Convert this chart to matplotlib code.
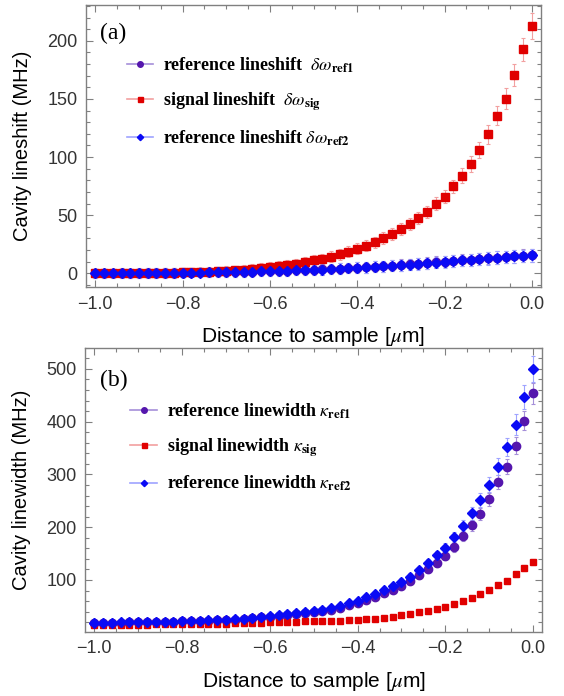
import numpy as np
import matplotlib
matplotlib.use("Agg")
import matplotlib.pyplot as plt
from matplotlib.lines import Line2D
from matplotlib.ticker import MultipleLocator, FixedLocator

plt.rcParams['font.family'] = ['Liberation Sans', 'DejaVu Sans']
plt.rcParams['mathtext.fontset'] = 'stix'

# distance to sample (um), 51 points from -1.0 to 0.0
distance = np.linspace(-1.0, 0.0, 51)

# panel (a): cavity lineshift (MHz)
shift_ref1 = [0.1, 0.0, 0.0, 0.2, 0.1, 0.1, 0.3, 0.2, 0.4, 0.4,
              0.6, 0.6, 0.8, 0.8, 1.0, 1.1, 1.2, 1.3, 1.5, 1.7,
              1.9, 2.1, 2.3, 2.5, 2.8, 3.1, 3.4, 3.7, 4.1, 4.5,
              4.9, 5.3, 5.7, 6.2, 6.7, 7.2, 7.7, 8.3, 8.9, 9.5,
              10.1, 10.7, 11.2, 11.8, 12.4, 13.0, 13.6, 14.1, 14.6, 15.1,
              15.4]
shift_sig = [0.0, 0.1, 0.1, 0.2, 0.2, 0.3, 0.4, 0.5, 0.6, 0.7,
             0.8, 1.0, 1.2, 1.4, 1.7, 2.1, 2.6, 3.2, 3.9, 4.6,
             5.4, 6.3, 7.2, 8.2, 9.7, 11.2, 12.6, 14.4, 16.3, 18.6,
             21.2, 23.8, 26.6, 30.4, 33.8, 37.9, 42.4, 47.3, 53.0, 59.8,
             65.9, 74.9, 84.0, 94.1, 106.1, 119.6, 135.6, 150.3, 170.4, 192.8,
             212.8]
shift_ref2 = [0.0, 0.0, 0.1, 0.1, 0.1, 0.2, 0.2, 0.3, 0.3, 0.4,
              0.5, 0.6, 0.7, 0.8, 0.9, 1.0, 1.1, 1.3, 1.4, 1.6,
              1.8, 2.0, 2.2, 2.5, 2.7, 3.0, 3.3, 3.6, 4.0, 4.4,
              4.8, 5.2, 5.6, 6.1, 6.6, 7.1, 7.6, 8.1, 8.7, 9.3,
              9.9, 10.5, 11.1, 11.7, 12.3, 12.9, 13.5, 14.0, 14.5, 15.0,
              15.5]
err_shift_ref = [4.0, 4.0, 4.0, 4.0, 4.0, 4.0, 4.0, 4.0, 4.0, 4.0,
                 4.1, 4.1, 4.1, 4.1, 4.1, 4.2, 4.2, 4.2, 4.2, 4.2,
                 4.3, 4.3, 4.3, 4.3, 4.4, 4.4, 4.4, 4.5, 4.5, 4.5,
                 4.6, 4.6, 4.6, 4.7, 4.7, 4.8, 4.8, 4.9, 4.9, 5.0,
                 5.0, 5.1, 5.1, 5.2, 5.2, 5.3, 5.3, 5.4, 5.4, 5.5,
                 5.5]
err_shift_sig = [3.5, 3.5, 3.5, 3.5, 3.5, 3.5, 3.6, 3.6, 3.6, 3.6,
                 3.7, 3.7, 3.7, 3.8, 3.8, 3.8, 3.9, 3.9, 4.0, 4.0,
                 4.1, 4.1, 4.2, 4.2, 4.3, 4.3, 4.4, 4.4, 4.5, 4.5,
                 4.6, 4.6, 4.7, 4.8, 4.9, 5.0, 5.1, 5.2, 5.3, 5.5,
                 5.7, 5.8, 6.3, 7.0, 7.0, 8.2, 8.3, 8.7, 9.4, 9.9,
                 11.0]

# panel (b): cavity linewidth (MHz)
width_ref1 = [18.8, 19.0, 19.2, 19.4, 19.6, 19.8, 20.1, 20.4, 20.7, 21.1,
              21.5, 21.9, 22.4, 22.9, 23.5, 24.2, 25.1, 26.2, 27.5, 29.0,
              30.5, 32.0, 33.5, 35.2, 37.0, 39.0, 41.5, 44.0, 47.5, 52.0,
              57.0, 62.0, 68.0, 75.0, 81.0, 89.0, 98.0, 108.9, 120.0, 132.8,
              145.5, 163.0, 183.4, 203.7, 225.0, 253.0, 285.0, 314.8, 354.6, 402.0,
              454.0]
width_sig = [15.0, 15.1, 15.2, 15.3, 15.4, 15.5, 15.6, 15.7, 15.8, 15.9,
             16.0, 16.2, 16.5, 16.8, 17.1, 17.4, 17.8, 18.2, 18.7, 19.2,
             19.8, 20.2, 20.6, 21.0, 21.4, 21.8, 22.2, 22.6, 23.1, 23.6,
             24.2, 25.5, 26.8, 28.7, 30.6, 33.1, 35.6, 38.7, 41.8, 45.6,
             49.4, 54.5, 60.8, 66.5, 73.5, 81.0, 90.5, 98.7, 110.8, 123.3,
             133.5]
width_ref2 = [19.0, 19.2, 19.4, 19.6, 19.8, 20.0, 20.3, 20.6, 20.9, 21.3,
              21.7, 22.2, 22.7, 23.3, 24.0, 24.8, 25.8, 27.0, 28.4, 30.0,
              31.8, 33.3, 34.9, 36.6, 38.6, 40.5, 43.2, 46.3, 50.7, 55.8,
              61.0, 67.0, 73.7, 81.0, 88.0, 97.0, 106.0, 118.0, 132.0, 146.8,
              161.2, 181.0, 202.4, 226.4, 251.0, 280.7, 314.8, 351.6, 394.5, 446.3,
              499.4]
err_width_ref1 = [2.0, 2.0, 2.0, 2.0, 2.0, 2.0, 2.0, 2.0, 2.0, 2.0,
                  2.0, 2.0, 2.0, 2.0, 2.0, 2.0, 2.0, 2.0, 2.0, 2.0,
                  2.1, 2.2, 2.3, 2.4, 2.5, 2.6, 2.8, 3.0, 3.2, 3.5,
                  3.8, 4.1, 4.5, 4.9, 5.3, 5.7, 6.2, 6.7, 7.3, 8.0,
                  8.6, 9.3, 10.0, 10.8, 11.6, 12.5, 13.5, 14.6, 16.0, 18.0,
                  20.0]
err_width_sig = [1.0, 1.0, 1.0, 1.0, 1.0, 1.0, 1.0, 1.0, 1.0, 1.0,
                 1.0, 1.0, 1.0, 1.0, 1.0, 1.0, 1.0, 1.0, 1.1, 1.1,
                 1.1, 1.1, 1.2, 1.2, 1.2, 1.3, 1.3, 1.3, 1.4, 1.4,
                 1.5, 1.5, 1.6, 1.7, 1.8, 1.9, 2.0, 2.1, 2.2, 2.4,
                 2.6, 2.8, 3.0, 3.3, 3.6, 3.9, 4.2, 4.6, 5.0, 5.5,
                 6.0]
err_width_ref2 = [2.0, 2.0, 2.0, 2.0, 2.0, 2.0, 2.0, 2.0, 2.0, 2.0,
                  2.0, 2.0, 2.0, 2.0, 2.0, 2.0, 2.0, 2.0, 2.0, 2.0,
                  2.2, 2.3, 2.4, 2.5, 2.6, 2.8, 3.0, 3.2, 3.5, 3.8,
                  4.1, 4.5, 4.9, 5.3, 5.7, 6.2, 6.7, 7.3, 8.0, 8.7,
                  9.5, 10.3, 11.2, 12.2, 13.3, 14.5, 15.8, 17.5, 20.0, 22.5,
                  25.0]

c_ref1, c_sig, c_ref2 = '#5516ad', '#e00000', '#0a0af5'
light = {c_ref1: '#a58fd9', c_sig: '#f2a0a0', c_ref2: '#9ea3ff'}
frame_col = '#808080'

fig = plt.figure(figsize=(5.64, 6.96), dpi=100)
ax1 = fig.add_axes([0.152, 0.5872, 0.8072, 0.406])
ax2 = fig.add_axes([0.1502, 0.092, 0.8113, 0.4084])


def draw_series(ax, y, err, color, marker, ms):
    ax.errorbar(distance, y, yerr=err, fmt=marker, color=color, ms=ms,
                mec=color, ecolor=light[color], elinewidth=0.8, capsize=1.5,
                capthick=0.8)


def style_axes(ax):
    ax.set_xlim(-1.022, 0.021)
    ax.xaxis.set_major_locator(MultipleLocator(0.2))
    ax.xaxis.set_minor_locator(MultipleLocator(0.05))
    ax.tick_params(which='both', direction='in', top=True, right=True,
                   color=frame_col, width=0.8, labelcolor='#333333',
                   labelsize=13)
    ax.tick_params(which='major', length=5, pad=6)
    ax.tick_params(which='minor', length=3)
    for sp in ax.spines.values():
        sp.set_color(frame_col)
        sp.set_linewidth(1.0)
    ax.set_xlabel(r'Distance to sample [$\mu$m]', fontsize=15)
    ax.xaxis.set_label_coords(0.5, -0.133)


# (a) lineshift
draw_series(ax1, shift_ref1, err_shift_ref, c_ref1, 'o', 6.0)
draw_series(ax1, shift_sig, err_shift_sig, c_sig, 's', 5.2)
draw_series(ax1, shift_ref2, err_shift_ref, c_ref2, 'D', 4.7)
style_axes(ax1)
ax1.set_ylim(-12, 231)
ax1.yaxis.set_major_locator(MultipleLocator(50))
ax1.yaxis.set_minor_locator(MultipleLocator(10))
ax1.set_ylabel('Cavity lineshift (MHz)', fontsize=14.5)
ax1.yaxis.set_label_coords(-0.118, 0.5)
ax1.text(0.032, 0.9, '(a)', transform=ax1.transAxes, fontsize=17,
         family='Liberation Serif', va='center')

# (b) linewidth
draw_series(ax2, width_ref1, err_width_ref1, c_ref1, 'o', 6.0)
draw_series(ax2, width_sig, err_width_sig, c_sig, 's', 4.5)
draw_series(ax2, width_ref2, err_width_ref2, c_ref2, 'D', 4.7)
style_axes(ax2)
ax2.set_ylim(1.5, 540)
ax2.yaxis.set_major_locator(FixedLocator([100, 200, 300, 400, 500]))
ax2.yaxis.set_minor_locator(MultipleLocator(20))
ax2.set_ylabel('Cavity linewidth (MHz)', fontsize=14.5)
ax2.yaxis.set_label_coords(-0.118, 0.5)
ax2.text(0.033, 0.886, '(b)', transform=ax2.transAxes, fontsize=17,
         family='Liberation Serif', va='center')


def handles():
    return [Line2D([], [], color=light[c_ref1], lw=1.2, marker='o', ms=4,
                   mfc=c_ref1, mec=c_ref1),
            Line2D([], [], color=light[c_sig], lw=1.2, marker='s', ms=3.6,
                   mfc=c_sig, mec=c_sig),
            Line2D([], [], color=light[c_ref2], lw=1.2, marker='D', ms=3.2,
                   mfc=c_ref2, mec=c_ref2)]


leg_font = {'family': 'Liberation Serif', 'weight': 'bold', 'size': 13}
ax1.legend(handles(),
           [r'reference lineshift  $\delta\omega_{\mathbf{ref1}}$',
            r'signal lineshift  $\delta\omega_{\mathbf{sig}}$',
            r'reference lineshift $\delta\omega_{\mathbf{ref2}}$'],
           loc='upper left', bbox_to_anchor=(0.09, 0.82), frameon=False,
           prop=leg_font, borderpad=0, borderaxespad=0, handlelength=1.45,
           handletextpad=0.55, labelspacing=0.85)
ax2.legend(handles(),
           [r'reference linewidth $\kappa_{\mathbf{ref1}}$',
            r'signal linewidth $\kappa_{\mathbf{sig}}$',
            r'reference linewidth $\kappa_{\mathbf{ref2}}$'],
           loc='upper left', bbox_to_anchor=(0.1, 0.812), frameon=False,
           prop=leg_font, borderpad=0, borderaxespad=0, handlelength=1.45,
           handletextpad=0.55, labelspacing=0.85)

fig.savefig('out.png', dpi=100)
